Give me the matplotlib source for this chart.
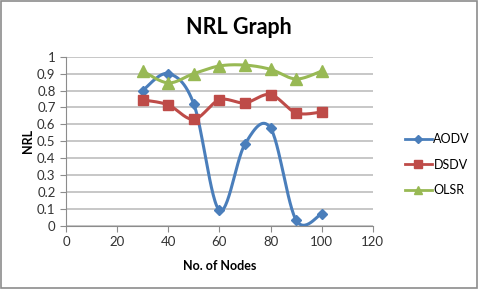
import numpy as np
import matplotlib.pyplot as plt
from matplotlib.lines import Line2D

nodes = [30, 40, 50, 60, 70, 80, 90, 100]
aodv = [0.80, 0.90, 0.72, 0.093, 0.484, 0.578, 0.035, 0.072]
dsdv = [0.745, 0.715, 0.63, 0.745, 0.727, 0.776, 0.668, 0.673]
olsr = [0.915, 0.845, 0.90, 0.945, 0.95, 0.925, 0.868, 0.915]


def smooth(x, y, n=30):
    # excel style smoothed line: bezier through points, catmull-rom controls
    x = np.asarray(x, float)
    y = np.asarray(y, float)
    px = np.concatenate([[x[0]], x, [x[-1]]])
    py = np.concatenate([[y[0]], y, [y[-1]]])
    xs, ys = [], []
    t = np.linspace(0, 1, n)
    for i in range(1, len(px) - 2):
        p0 = np.array([px[i], py[i]])
        p3 = np.array([px[i + 1], py[i + 1]])
        p1 = p0 + (np.array([px[i + 1], py[i + 1]]) - np.array([px[i - 1], py[i - 1]])) / 6
        p2 = p3 - (np.array([px[i + 2], py[i + 2]]) - np.array([px[i], py[i]])) / 6
        b = ((1 - t) ** 3)[:, None] * p0 + (3 * (1 - t) ** 2 * t)[:, None] * p1 \
            + (3 * (1 - t) * t ** 2)[:, None] * p2 + (t ** 3)[:, None] * p3
        xs.extend(b[:, 0])
        ys.extend(b[:, 1])
    return xs, ys


plt.rcParams['font.family'] = ['Lato', 'DejaVu Sans']

fig = plt.figure(figsize=(4.78, 2.89), dpi=100)
fig.patches.append(plt.Rectangle((0.002, 0.003), 0.996, 0.994, transform=fig.transFigure,
                                 fill=False, edgecolor='#8c8c8c', linewidth=1.2))
ax = fig.add_axes([0.138, 0.218, 0.642, 0.586])

series = [('AODV', aodv, '#4a7ebb', 'D', 5.5),
          ('DSDV', dsdv, '#be4b48', 's', 7.5),
          ('OLSR', olsr, '#98b954', '^', 8)]

handles = []
for name, vals, col, mk, ms in series:
    sx, sy = smooth(nodes, vals)
    ax.plot(sx, sy, color=col, linewidth=2.2, zorder=3)
    ax.plot(nodes, vals, linestyle='none', marker=mk, markersize=ms, color=col, zorder=4)
    handles.append(Line2D([], [], color=col, linewidth=2, marker=mk, markersize=ms * 0.7))

ax.set_xlim(0, 120)
ax.set_ylim(0, 1)
ax.set_xticks(np.arange(0, 121, 20))
ax.set_yticks(np.arange(0, 1.01, 0.1))
ax.set_yticklabels(['0', '0.1', '0.2', '0.3', '0.4', '0.5', '0.6', '0.7', '0.8', '0.9', '1'])
ax.grid(axis='y', color='#b8b8b8', linewidth=1.1)
ax.set_axisbelow(True)
for s in ['top', 'right']:
    ax.spines[s].set_visible(False)
for s in ['left', 'bottom']:
    ax.spines[s].set_color('#8c8c8c')
ax.tick_params(axis='both', colors='#8c8c8c', labelcolor='#333333', labelsize=9.5, length=4, direction='out')

ax.set_xlabel('No. of Nodes', fontsize=9, fontweight='bold', labelpad=8)
ax.set_ylabel('NRL', fontsize=9, fontweight='bold', labelpad=2)
fig.text(0.5, 0.905, 'NRL Graph', ha='center', va='center', fontsize=15.5, fontweight='bold')

fig.legend(handles, ['AODV', 'DSDV', 'OLSR'], loc='center left', bbox_to_anchor=(0.823, 0.43),
           frameon=False, fontsize=9, handlelength=2.2, handletextpad=0.1, labelspacing=1.1)

fig.savefig('out.png', dpi=100)
